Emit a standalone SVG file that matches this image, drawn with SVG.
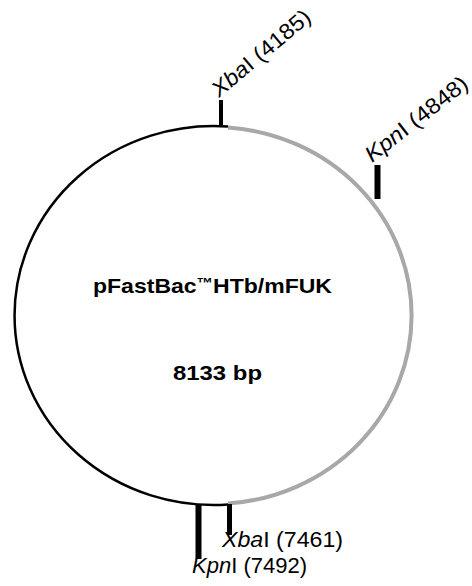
<svg xmlns="http://www.w3.org/2000/svg" width="472" height="586" viewBox="0 0 472 586">
<style>
.lbl{font-family:"Liberation Sans",Arial,sans-serif;font-size:22px;fill:#000}
.it{font-style:italic}
.ctr{font-family:"Liberation Sans",Arial,sans-serif;font-size:21px;font-weight:bold;fill:#000}
.tick{fill:#000}
</style>
<rect width="472" height="586" fill="#fff"/>
<g id="connectors">
<path id="backbone" d="M228,504.5 A199,189.5 0 1 1 228,126.5" fill="none" stroke="#000" stroke-width="2.5"/>
<path id="insert" d="M228,127.5 A198,188.5 0 0 1 228,503.5" fill="none" stroke="#a8a8a8" stroke-width="4"/>
</g>
<g id="xba4185">
<rect class="tick" x="219" y="100" width="4" height="27"/>
<text class="lbl" transform="translate(219,98) rotate(-40)" textLength="122" lengthAdjust="spacingAndGlyphs"><tspan class="it">Xba</tspan>I (4185)</text>
</g>
<g id="kpn4848">
<rect class="tick" x="374.5" y="165" width="6" height="34"/>
<text class="lbl" transform="translate(372,163) rotate(-38)" textLength="124" lengthAdjust="spacingAndGlyphs"><tspan class="it">Kpn</tspan>I (4848)</text>
</g>
<g id="xba7461">
<rect class="tick" x="227" y="504" width="5" height="31"/>
<text class="lbl" x="222" y="547" textLength="121" lengthAdjust="spacingAndGlyphs"><tspan class="it">Xba</tspan>I (7461)</text>
</g>
<g id="kpn7492">
<rect class="tick" x="195.5" y="504" width="6" height="55"/>
<text class="lbl" x="192" y="573" textLength="115" lengthAdjust="spacingAndGlyphs"><tspan class="it">Kpn</tspan>I (7492)</text>
</g>
<g id="title">
<text class="ctr" x="93" y="293" textLength="239" lengthAdjust="spacingAndGlyphs">pFastBac<tspan font-size="15" dy="-5">™</tspan><tspan dy="5">HTb/mFUK</tspan></text>
<text class="ctr" x="173" y="380" textLength="89" lengthAdjust="spacingAndGlyphs">8133 bp</text>
</g>
</svg>
